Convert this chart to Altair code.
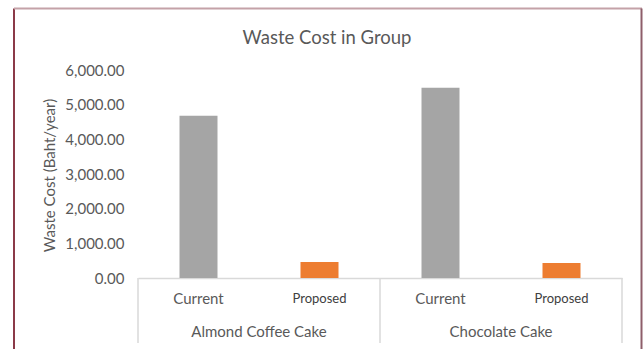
import altair as alt
import pandas as pd

# ---- data ----
groups = ["Almond Coffee Cake", "Almond Coffee Cake", "Chocolate Cake", "Chocolate Cake"]
scenarios = ["Current", "Proposed", "Current", "Proposed"]
waste_cost = [4680, 460, 5490, 430]
group_names = ["Almond Coffee Cake", "Chocolate Cake"]
y_ticks = [0, 1000, 2000, 3000, 4000, 5000, 6000]

keys = [f"{g}|{s}" for g, s in zip(groups, scenarios)]
df = pd.DataFrame({"key": keys, "group": groups, "scenario": scenarios, "cost": waste_cost})

FONT = "Lato"
TXT = "#595959"
W, H = 484, 208

xsc = alt.Scale(domain=keys, paddingInner=0, paddingOuter=0)
ysc = alt.Scale(domain=[0, 6000])
xaxis = alt.Axis(labels=False, ticks=False, title=None, grid=False,
                 domainColor="#D9D9D9", domainWidth=1.5)


def xk(band=None):
    if band is None:
        return alt.X("key:N", scale=xsc, sort=keys, axis=xaxis)
    return alt.X("key:N", scale=xsc, sort=keys, axis=xaxis, bandPosition=band)


bars = alt.Chart(df).mark_bar(size=38).encode(
    x=xk(),
    y=alt.Y("cost:Q", scale=ysc,
            axis=alt.Axis(values=y_ticks, format=",.2f", title="Waste Cost (Baht/year)",
                          domain=False, ticks=False, grid=False, labelPadding=14,
                          labelFont=FONT, labelFontSize=15, labelColor=TXT,
                          titleFont=FONT, titleFontSize=15, titleColor=TXT, titleFontWeight="normal",
                          titleX=-89, titleY=105, titleAngle=-90,
                          titleAlign="center", titleBaseline="middle")),
    color=alt.Color("scenario:N", scale=alt.Scale(domain=["Current", "Proposed"],
                                                   range=["#A5A5A5", "#ED7D31"]), legend=None),
)

# category labels (Current/Proposed)
cur_labels = alt.Chart(df[df.scenario == "Current"]).mark_text(
    font=FONT, fontSize=15, color=TXT, baseline="middle").encode(
    x=xk(), y=alt.value(229), text="scenario:N")
prop_labels = alt.Chart(df[df.scenario == "Proposed"]).mark_text(
    font=FONT, fontSize=13, color="#404040", baseline="middle").encode(
    x=xk(), y=alt.value(229), text="scenario:N")

# group labels centered on each group (end of first band)
first_keys = df.drop_duplicates("group")
grp_labels = alt.Chart(first_keys).mark_text(
    font=FONT, fontSize=15, color=TXT, baseline="middle").encode(
    x=xk(1), y=alt.value(262), text="group:N")

# dividers below the axis
div_start = alt.Chart(first_keys).mark_rule(color="#D9D9D9", strokeWidth=1.5).encode(
    x=xk(0), y=alt.value(H), y2=alt.value(H + 65))
div_end = alt.Chart(df.tail(1)).mark_rule(color="#D9D9D9", strokeWidth=1.5).encode(
    x=xk(1), y=alt.value(H), y2=alt.value(H + 65))

# chart frame
frame_left = alt.Chart(df.head(1)).mark_rule(color="#8B3A48", strokeWidth=2).encode(
    x=alt.value(-124), y=alt.value(-61.5), y2=alt.value(H + 80))
frame_top = alt.Chart(df.head(1)).mark_rule(color="#C4A2A8", strokeWidth=2).encode(
    x=alt.value(-124), x2=alt.value(504), y=alt.value(-61.5))
frame_right = alt.Chart(df.head(1)).mark_rule(color="#8E5E6A", strokeWidth=2).encode(
    x=alt.value(503.5), y=alt.value(-61.5), y2=alt.value(H + 80))

chart = alt.layer(
    bars, cur_labels, prop_labels, grp_labels, div_start, div_end,
    frame_left, frame_top, frame_right
).properties(
    width=W, height=H,
    title=alt.TitleParams("Waste Cost in Group", font=FONT, fontSize=18.5, color=TXT,
                          fontWeight="normal", anchor="middle", dx=-53, offset=-48.5,
                          baseline="middle"),
    autosize=alt.AutoSizeParams(type="none"),
    padding={"left": 138, "top": 70, "right": 21, "bottom": 71},
).configure(background="white").configure_view(stroke="transparent", strokeWidth=0).configure_axis(grid=False)

chart.save("out.html", embed_options={"renderer": "svg", "actions": False})
